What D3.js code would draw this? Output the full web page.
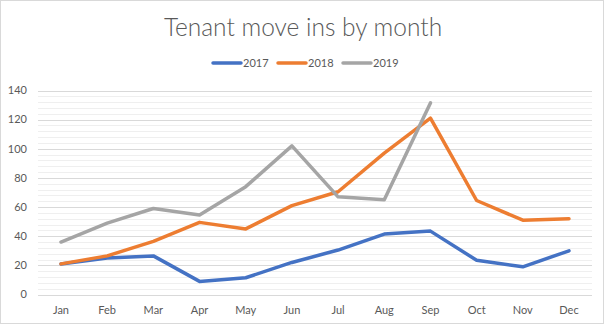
<!DOCTYPE html>
<html><head><meta charset="utf-8">
<script src="https://cdn.jsdelivr.net/npm/d3@7"></script>
<style>body{margin:0;background:#fff}svg{display:block}</style>
</head><body>
<script>
const months = ["Jan","Feb","Mar","Apr","May","Jun","Jul","Aug","Sep","Oct","Nov","Dec"];
const s2017 = [21,25,26.5,9,11.5,22,30.5,41.5,43.5,23.5,19,30];
const s2018 = [21,26.5,36.5,49.5,45,61,70.5,97,121,64.5,51,52];
const s2019 = [36,49,59,54.5,74,102,67,65,131.5,null,null,null];
const seriesNames = ["2017","2018","2019"];
const seriesColors = ["#4472c4","#ed7d31","#a5a5a5"];
const yTicks = [0,20,40,60,80,100,120,140];

const W=606,H=326;
const svg=d3.select("body").append("svg").attr("width",W).attr("height",H);
svg.append("rect").attr("x",0.5).attr("y",0.5).attr("width",603).attr("height",323)
  .attr("fill","#fff").attr("stroke","#d9d9d9");

const x=d3.scalePoint().domain(months).range([61,569]);
const y=d3.scaleLinear().domain([0,140]).range([294.5,90.5]);
const left=38,right=592;

const minor=d3.range(0,141,4);
svg.append("g").selectAll("line").data(minor).join("line")
  .attr("x1",left).attr("x2",right).attr("y1",d=>Math.round(y(d))+0.5).attr("y2",d=>Math.round(y(d))+0.5)
  .attr("stroke","#efefef").attr("stroke-width",1);
svg.append("g").selectAll("line").data(yTicks).join("line")
  .attr("x1",left).attr("x2",right).attr("y1",d=>Math.round(y(d))+0.5).attr("y2",d=>Math.round(y(d))+0.5)
  .attr("stroke","#d9d9d9").attr("stroke-width",1);

const font="Lato, 'Open Sans', sans-serif";
svg.append("g").selectAll("text").data(yTicks).join("text")
  .attr("x",27).attr("y",d=>y(d)).attr("dy","0.35em").attr("text-anchor","end")
  .attr("font-family",font).attr("font-size",11).attr("fill","#595959").text(d=>d);
svg.append("g").selectAll("text").data(months).join("text")
  .attr("x",d=>x(d)).attr("y",314).attr("text-anchor","middle")
  .attr("font-family",font).attr("font-size",11).attr("fill","#595959").text(d=>d);

const data=[s2017,s2018,s2019];
const line=d3.line().defined(d=>d!=null).x((d,i)=>x(months[i])).y(d=>y(d));
svg.append("g").selectAll("path").data(data).join("path")
  .attr("d",d=>line(d)).attr("fill","none")
  .attr("stroke",(d,i)=>seriesColors[i]).attr("stroke-width",3.5)
  .attr("stroke-linejoin","round").attr("stroke-linecap","round");

svg.append("text").attr("x",303).attr("y",36).attr("text-anchor","middle")
  .attr("font-family",font).attr("font-weight",300).attr("font-size",24.5).attr("fill","#595959")
  .text("Tenant move ins by month");

const lg=svg.append("g");
const lx=[212,277,342];
seriesNames.forEach((n,i)=>{
  lg.append("line").attr("x1",lx[i]+1).attr("x2",lx[i]+29).attr("y1",63).attr("y2",63)
    .attr("stroke",seriesColors[i]).attr("stroke-width",3.5).attr("stroke-linecap","round");
  lg.append("text").attr("x",lx[i]+31).attr("y",63).attr("dy","0.35em")
    .attr("font-family",font).attr("font-size",11).attr("fill","#595959").text(n);
});
</script>
</body></html>
